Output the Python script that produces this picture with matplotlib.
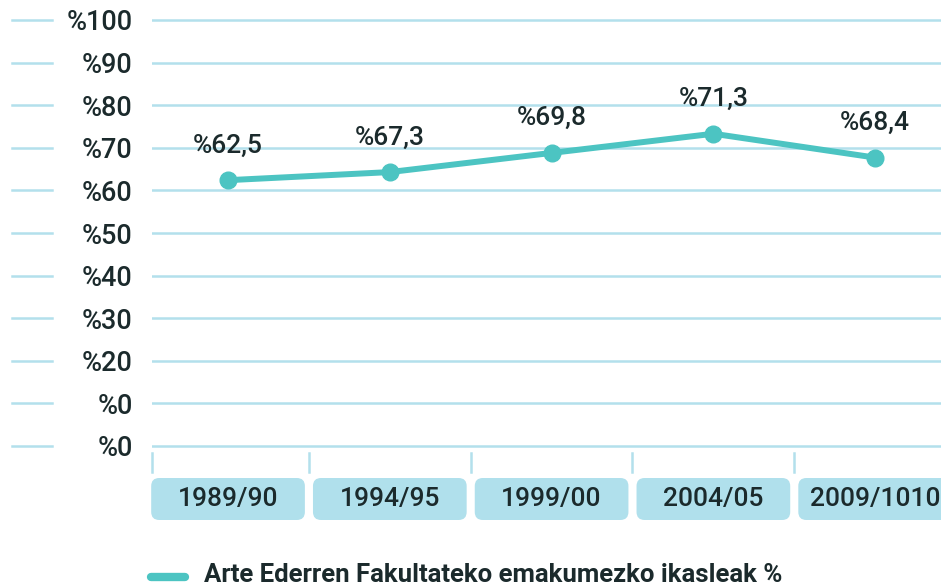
import matplotlib
matplotlib.use("Agg")
import matplotlib.pyplot as plt
from matplotlib.patches import FancyBboxPatch
from matplotlib.transforms import blended_transform_factory

# data
years = ["1989/90", "1994/95", "1999/00", "2004/05", "2009/1010"]
point_labels = ["%62,5", "%67,3", "%69,8", "%71,3", "%68,4"]
point_heights = [62.4, 64.3, 68.8, 73.3, 67.7]   # where the dots sit on the axis
y_ticks = [0, 10, 20, 30, 40, 50, 60, 70, 80, 90, 100]
y_tick_labels = ["%0", "%0", "%20", "%30", "%40", "%50", "%60", "%70", "%80", "%90", "%100"]
legend_label = "Arte Ederren Fakultateko emakumezko ikasleak %"

teal = "#4cc4c2"
grid_blue = "#b3e0ec"
box_blue = "#b0e0ec"
dark = "#1b2a2c"

plt.rcParams["font.family"] = ["Roboto", "DejaVu Sans"]

W, H = 941, 587
ppu = (446 - 20) / 100          # pixels per y unit
ax = None
fig = plt.figure(figsize=(W / 100, H / 100), dpi=100)
ax = fig.add_axes([152 / W, (H - 446 - 2 * ppu) / H, (W - 152) / W, (426 + 4 * ppu) / H])

x = list(range(len(years)))
ax.set_xlim(-0.47, 4.407)
ax.set_ylim(-2, 102)

# grid lines + labels
ax.set_yticks(y_ticks)
ax.set_yticklabels(y_tick_labels, fontsize=19.5, color=dark, fontweight="medium")
ax.tick_params(axis="y", length=0, pad=14)
ax.set_xticks([])
ax.grid(axis="y", color=grid_blue, linewidth=1.8)
ax.set_axisbelow(True)
for s in ax.spines.values():
    s.set_visible(False)

# short segments left of labels
left_tr = blended_transform_factory(fig.transFigure, ax.transData)
for t in y_ticks:
    ax.plot([12 / W, 52 / W], [t, t], color=grid_blue, linewidth=1.8,
            transform=left_tr, clip_on=False)

# the series
ax.plot(x, point_heights, color=teal, linewidth=4.3, marker="o",
        markersize=12, clip_on=False, zorder=3, solid_capstyle="round")
for xi, yi, lab in zip(x, point_heights, point_labels):
    ax.annotate(lab, (xi, yi), xytext=(0, 25), textcoords="offset points",
                ha="center", va="center", fontsize=19, color=dark,
                fontweight="medium")

# category boxes and separators below the axis
bx_tr = blended_transform_factory(ax.transData, fig.transFigure)
box_bottom = (H - 520) / H
box_height = 42 / H
aspect = (8 / H) / 0.05
for xi, yr in zip(x, years):
    box = FancyBboxPatch((xi - 0.475, box_bottom), 0.95, box_height,
                         boxstyle="round,pad=0,rounding_size=0.05",
                         mutation_aspect=aspect, transform=bx_tr,
                         facecolor=box_blue, edgecolor="none", clip_on=False)
    fig.add_artist(box)
    fig.text(xi, box_bottom + box_height / 2, yr, transform=bx_tr,
             ha="center", va="center", fontsize=19, color=dark,
             fontweight="medium")

sep_x = [-0.47, 0.5, 1.5, 2.5, 3.5]
for sx in sep_x:
    fig.add_artist(plt.Line2D([sx, sx], [(H - 472) / H, (H - 453) / H],
                              transform=bx_tr, color=grid_blue, linewidth=1.8))

# legend
fig.add_artist(plt.Line2D([151 / W, 185 / W], [(H - 577) / H] * 2,
                          color=teal, linewidth=6, solid_capstyle="round"))
fig.text(204 / W, (H - 575) / H, legend_label, ha="left", va="center",
         fontsize=18.5, fontweight="bold", color=dark)

fig.savefig("out.png", dpi=100)
